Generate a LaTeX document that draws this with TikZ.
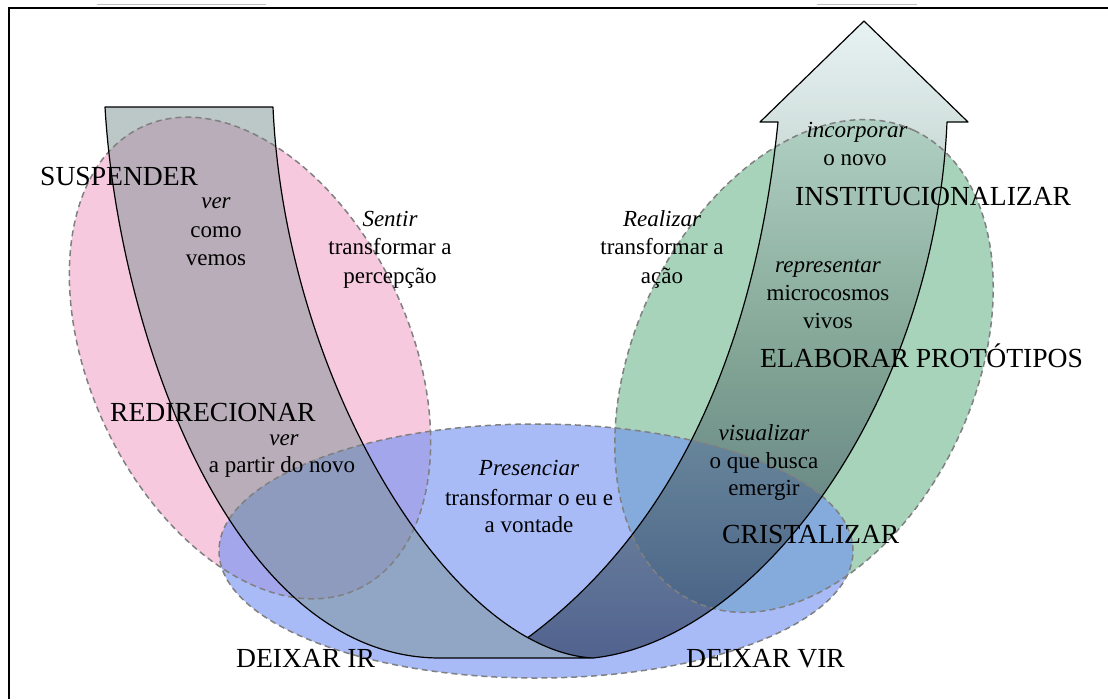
\documentclass[tikz,border=0pt]{standalone}
\usepackage{fontspec}
\setmainfont{Liberation Serif}
\definecolor{pinkE}{HTML}{F2A6CB}
\definecolor{blueE}{HTML}{6E8FF3}
\definecolor{greenE}{HTML}{6EB78F}
\definecolor{bandL}{HTML}{7A9292}
\definecolor{bandTop}{HTML}{D8ECEC}
\definecolor{bandMid}{HTML}{6E8C80}
\definecolor{bandBot}{HTML}{182848}
\definecolor{dashgray}{HTML}{808080}
\begin{document}
\begin{tikzpicture}[x=1pt,y=-1pt,
  big/.style={font=\fontsize{27.6}{33}\selectfont, inner sep=0pt, anchor=base west},
  sm/.style={font=\fontsize{23}{28}\selectfont, inner sep=0pt, anchor=base},
  smit/.style={font=\fontsize{23}{28}\selectfont\itshape, inner sep=0pt, anchor=base},
  ellfill/.style={fill opacity=0.6},
  elledge/.style={draw=dashgray, line width=1.5pt, dash pattern=on 6pt off 4pt},
  bandedge/.style={draw=black, line width=1.2pt, line join=round}]
\useasboundingbox (0,0) rectangle (1108,699);
\fill[white] (0,0) rectangle (1108,699);
% ellipses (fills)
\fill[pinkE, ellfill, rotate around={-65:(250,358)}] (250,358) ellipse [x radius=255pt, y radius=160pt];
\fill[greenE, ellfill, rotate around={65:(804,366)}] (804,366) ellipse [x radius=260pt, y radius=170pt];
\fill[blueE, ellfill] (536,551) ellipse [x radius=317pt, y radius=127pt];
% left band fill
\fill[bandL, fill opacity=0.5] (105,107) -- (273,107) .. controls (285,380) and (450,650) .. (593,658) -- (440,658) .. controls (230,658) and (118,330) .. (105,107) -- cycle;
% right band fill (gradient)
\shade[top color=bandTop, bottom color=bandBot, middle color=bandMid, fill opacity=0.6]
  (778,122) -- (760,122) -- (864,21) -- (968,122) -- (947,122) .. controls (935,400) and (760,640) .. (593,658) .. controls (571.6,656.8) and (549.6,649.7) .. (527.8,637.6) .. controls (700,510) and (760,300) .. (778,122) -- cycle;
% ellipse outlines
\draw[elledge, rotate around={-65:(250,358)}] (250,358) ellipse [x radius=255pt, y radius=160pt];
\draw[elledge, rotate around={65:(804,366)}] (804,366) ellipse [x radius=260pt, y radius=170pt];
\draw[elledge] (536,551) ellipse [x radius=317pt, y radius=127pt];
% band outlines
\draw[bandedge] (105,107) -- (273,107) .. controls (285,380) and (450,650) .. (593,658) -- (440,658) .. controls (230,658) and (118,330) .. (105,107) -- cycle;
\draw[bandedge] (527.8,637.6) .. controls (700,510) and (760,300) .. (778,122) -- (760,122) -- (864,21) -- (968,122) -- (947,122) .. controls (935,400) and (760,640) .. (593,658);
% frame and top remnants
\draw[line width=2pt] (8.5,699) -- (8.5,7.5) -- (1108,7.5);
\draw[gray!50, line width=1pt] (97,4) -- (266,4);
\draw[gray!50, line width=1pt] (817,4) -- (917,4);
% texts
\node[big] (suspender) at (40,185) {SUSPENDER};
\node[smit] (ver1) at (216,208) {ver};
\node[sm] (como) at (216,237) {como};
\node[sm] (vemos) at (216,265) {vemos};
\node[smit] (sentir) at (390,226) {Sentir};
\node[sm] (transf1) at (390,254.5) {transformar a};
\node[sm] (percep) at (390,283) {percepção};
\node[smit] (realizar) at (662,226) {Realizar};
\node[sm] (transf2) at (662,254.5) {transformar a};
\node[sm] (acao) at (662,283) {ação};
\node[smit] (incorp) at (857,137) {incorporar};
\node[sm] (onovo) at (855,165) {o novo};
\node[big] (instit) at (795,205) {INSTITUCIONALIZAR};
\node[smit] (repres) at (828,272) {representar};
\node[sm] (micro) at (828,300) {microcosmos};
\node[sm] (vivos) at (828,328) {vivos};
\node[big] (elab) at (760,367) {ELABORAR PROTÓTIPOS};
\node[smit] (visual) at (764,440) {visualizar};
\node[sm] (oque) at (764,468) {o que busca};
\node[sm] (emergir) at (764,495) {emergir};
\node[big] (crist) at (722,543) {CRISTALIZAR};
\node[big] (redir) at (110,421) {REDIRECIONAR};
\node[smit] (ver2) at (284,445) {ver};
\node[sm] (apartir) at (282,472) {a partir do novo};
\node[smit] (presenc) at (529,475) {Presenciar};
\node[sm] (transf3) at (529,505) {transformar o eu e};
\node[sm] (vontade) at (529,532) {a vontade};
\node[big] (deixarir) at (236,667) {DEIXAR IR};
\node[big] (deixarvir) at (686,667) {DEIXAR VIR};
\end{tikzpicture}
\end{document}
